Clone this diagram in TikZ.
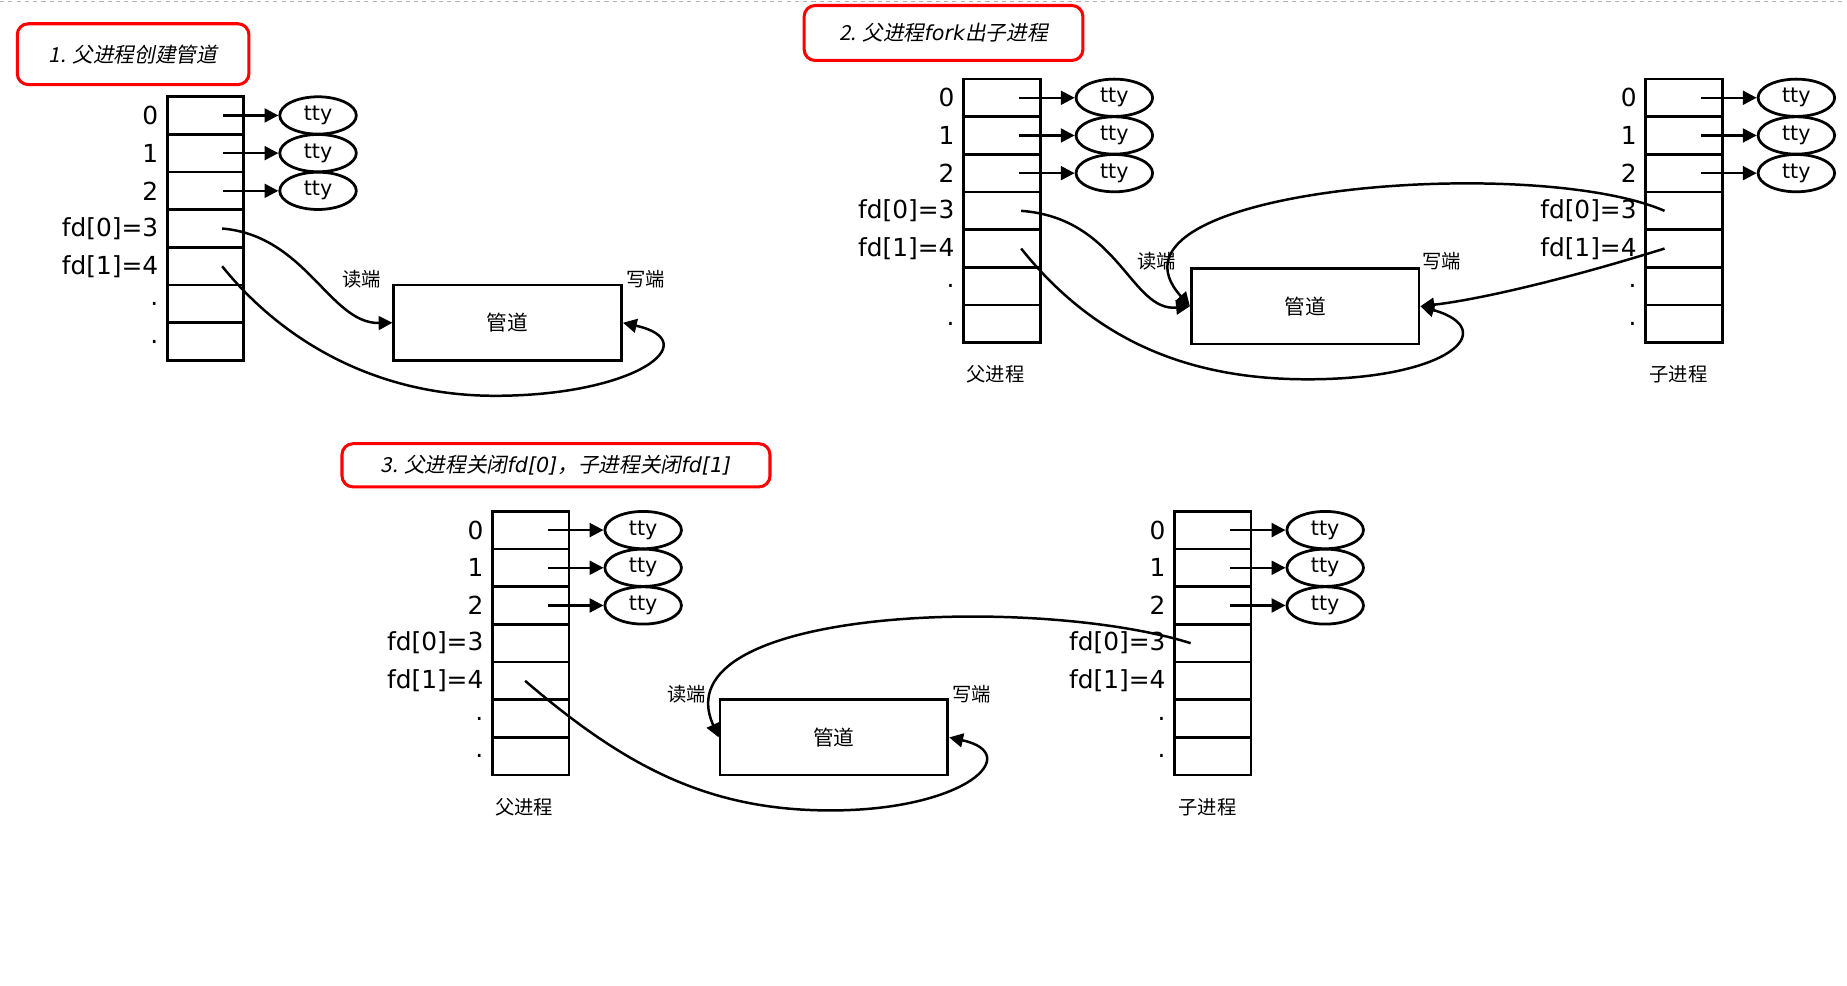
\documentclass[tikz,border=0pt]{standalone}
\usepackage{fontspec}
\setmainfont{DejaVu Sans}
\newfontfamily\cjk[AutoFakeSlant=0.2]{Noto Sans CJK SC}
\usetikzlibrary{arrows.meta,shapes.geometric}

\tikzset{
  cell/.style={draw,line width=2pt,minimum width=1.95cm,minimum height=0.96cm,inner sep=0pt},
  tty/.style={draw,ellipse,line width=2pt,minimum width=1.95cm,minimum height=0.95cm,inner sep=0pt,font=\fontsize{15}{15}\selectfont},
  pipebox/.style={draw,line width=2pt,minimum width=5.8cm,minimum height=1.92cm,font=\cjk\fontsize{15}{15}\selectfont},
  fdlabel/.style={anchor=east,font=\fontsize{18}{18}\selectfont},
  small/.style={font=\cjk\fontsize{14}{14}\selectfont},
  titlebox/.style={draw=red,line width=2.2pt,rounded corners=8pt,font=\cjk\itshape\fontsize{15}{15}\selectfont},
  link/.style={line width=1.8pt,-{Triangle[length=10pt,width=10pt]}}
}
\newcommand{\latit}[1]{{\rmfamily\itshape #1}}

% fd table: name, x, y (top)
\newcommand{\fdtable}[3]{
  \foreach \i/\txt in {0/0,1/1,2/2,3/fd[0]=3,4/fd[1]=4,5/.,6/.}{
    \node[cell] (#1-\i) at (#2+32.5,#3+16+\i*32) {};
    \node[fdlabel] at ([xshift=-2pt]#1-\i.west) {\txt};
  }
  \foreach \i in {0,1,2}{
    \node[tty] (#1-t\i) at (#2+128,#3+16+\i*32) {tty};
    \draw[link] ([xshift=-16pt]#1-\i.east) -- (#1-t\i);
  }
}

\begin{document}
\begin{tikzpicture}[x=0.03cm,y=-0.03cm]
\useasboundingbox (0,0) rectangle (1568,837);
\draw[gray!60,dashed] (0,1) -- (1568,1);

% panel 1
\node[titlebox,minimum width=5.9cm,minimum height=1.55cm] (title1) at (113,46) {1. 父进程创建管道};
\fdtable{pa}{142}{82}
\node[pipebox] (pipe1) at (431,274) {管道};
\node[small] (r1) at (307,237) {读端};
\node[small] (w1) at (548,237) {写端};
\draw[link] (pa-3.center) ++(12pt,0) .. controls (260,200) and (280,275) .. (pipe1.west);
\draw[link] (pa-4.center) ++(12pt,0) .. controls (240,290) and (320,336) .. (420,336) .. controls (540,336) and (600,290) .. (pipe1.east);

% panel 2
\node[titlebox,minimum width=7.1cm,minimum height=1.4cm] (title2) at (801,28) {2. 父进程\latit{fork}出子进程};
\fdtable{pb}{818}{67}
\fdtable{cb}{1397}{67}
\node[pipebox] (pipe2) at (1108,260) {管道};
\node[small] (r2) at (982,222) {读端};
\node[small] (w2) at (1224,222) {写端};
\node[small] (lp2) at (845,318) {父进程};
\node[small] (lc2) at (1425,318) {子进程};
\draw[link] (pb-3.center) ++(14pt,0) .. controls (950,185) and (960,265) .. (pipe2.west);
\draw[link] (pb-4.center) ++(14pt,0) .. controls (930,290) and (1010,322) .. (1110,322) .. controls (1230,322) and (1275,280) .. (pipe2.east);
\draw[link] (cb-3.center) ++(-14pt,0) .. controls (1300,130) and (920,160) .. (pipe2.west);
\draw[link] (cb-4.center) ++(-14pt,0) .. controls (1320,240) and (1250,255) .. (pipe2.east);

% panel 3
\node[titlebox,minimum width=10.9cm,minimum height=1.1cm] (title3) at (472,395) {3. 父进程关闭\latit{fd[0]}，子进程关闭\latit{fd[1]}};
\fdtable{pc}{418}{434}
\fdtable{cc}{997}{434}
\node[pipebox] (pipe3) at (708,626) {管道};
\node[small] (r3) at (583,589) {读端};
\node[small] (w3) at (825,589) {写端};
\node[small] (lp3) at (445,685) {父进程};
\node[small] (lc3) at (1025,685) {子进程};
\draw[link] (pc-4.center) ++(-4pt,0) .. controls (530,650) and (600,688) .. (705,688) .. controls (820,688) and (870,640) .. (pipe3.east);
\draw[link] (cc-3.center) ++(-16pt,0) .. controls (880,505) and (560,515) .. (pipe3.west);
\end{tikzpicture}
\end{document}
